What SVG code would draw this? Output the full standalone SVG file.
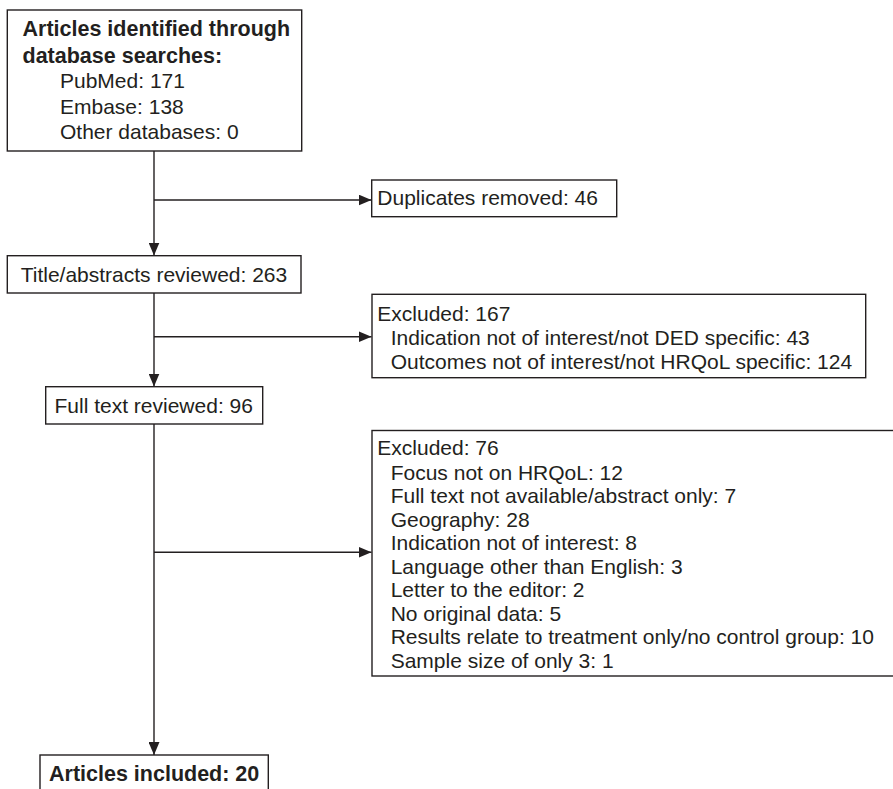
<svg xmlns="http://www.w3.org/2000/svg" width="893" height="789" viewBox="0 0 893 789">
<style>
  .box { fill: #ffffff; stroke: #231f20; stroke-width: 1.4; }
  .t { font-family: "Liberation Sans", Arial, sans-serif; font-size: 21px; fill: #231f20; }
  .b { font-weight: bold; font-size: 21.5px; }
  .ln { stroke: #231f20; stroke-width: 1.4; fill: none; }
</style>
<defs>
  <marker id="ah" markerUnits="userSpaceOnUse" markerWidth="13" markerHeight="11" refX="13" refY="5.5" orient="auto">
    <path d="M0,0 L13,5.5 L0,11 Z" fill="#231f20"/>
  </marker>
</defs>
<rect width="893" height="789" fill="#ffffff"/>
<g id="connectors">
  <line class="ln" x1="154" y1="151" x2="154" y2="255.5" marker-end="url(#ah)"/>
  <line class="ln" x1="154" y1="200" x2="371.5" y2="200" marker-end="url(#ah)"/>
  <line class="ln" x1="154" y1="293" x2="154" y2="386.5" marker-end="url(#ah)"/>
  <line class="ln" x1="154" y1="336.7" x2="371.5" y2="336.7" marker-end="url(#ah)"/>
  <line class="ln" x1="154" y1="424" x2="154" y2="755" marker-end="url(#ah)"/>
  <line class="ln" x1="154" y1="552.3" x2="371.5" y2="552.3" marker-end="url(#ah)"/>
</g>
<g id="identified">
  <rect class="box" x="7.3" y="10" width="294.4" height="141"/>
  <text class="t b" x="22.5" y="36">Articles identified through</text>
  <text class="t b" x="22.5" y="62.5">database searches:</text>
  <text class="t" x="60" y="88.3">PubMed: 171</text>
  <text class="t" x="60" y="113.5">Embase: 138</text>
  <text class="t" x="60" y="139">Other databases: 0</text>
</g>
<g id="duplicates">
  <rect class="box" x="371.7" y="180" width="245" height="36.7"/>
  <text class="t" x="377.3" y="205">Duplicates removed: 46</text>
</g>
<g id="title-abstracts">
  <rect class="box" x="7.3" y="255.7" width="293.7" height="37.3"/>
  <text class="t" x="20.7" y="281.5">Title/abstracts reviewed: 263</text>
</g>
<g id="excluded-167">
  <rect class="box" x="372" y="294.3" width="493.7" height="83.4"/>
  <text class="t" x="377.3" y="320.7">Excluded: 167</text>
  <text class="t" x="390.7" y="345">Indication not of interest/not DED specific: 43</text>
  <text class="t" x="390.7" y="369">Outcomes not of interest/not HRQoL specific: 124</text>
</g>
<g id="full-text">
  <rect class="box" x="45.7" y="386.7" width="217" height="37.3"/>
  <text class="t" x="54.5" y="412.7">Full text reviewed: 96</text>
</g>
<g id="excluded-76">
  <rect class="box" x="372" y="430.5" width="530" height="245.5"/>
  <text class="t" x="377.3" y="455">Excluded: 76</text>
  <text class="t" x="390.7" y="479.5">Focus not on HRQoL: 12</text>
  <text class="t" x="390.7" y="503">Full text not available/abstract only: 7</text>
  <text class="t" x="390.7" y="526.7">Geography: 28</text>
  <text class="t" x="390.7" y="550.3">Indication not of interest: 8</text>
  <text class="t" x="390.7" y="573.8">Language other than English: 3</text>
  <text class="t" x="390.7" y="597.3">Letter to the editor: 2</text>
  <text class="t" x="390.7" y="620.8">No original data: 5</text>
  <text class="t" x="390.7" y="644.3">Results relate to treatment only/no control group: 10</text>
  <text class="t" x="390.7" y="667.8">Sample size of only 3: 1</text>
</g>
<g id="included">
  <rect class="box" x="40" y="755" width="228.3" height="50"/>
  <text class="t b" x="49" y="780.7">Articles included: 20</text>
</g>
</svg>
